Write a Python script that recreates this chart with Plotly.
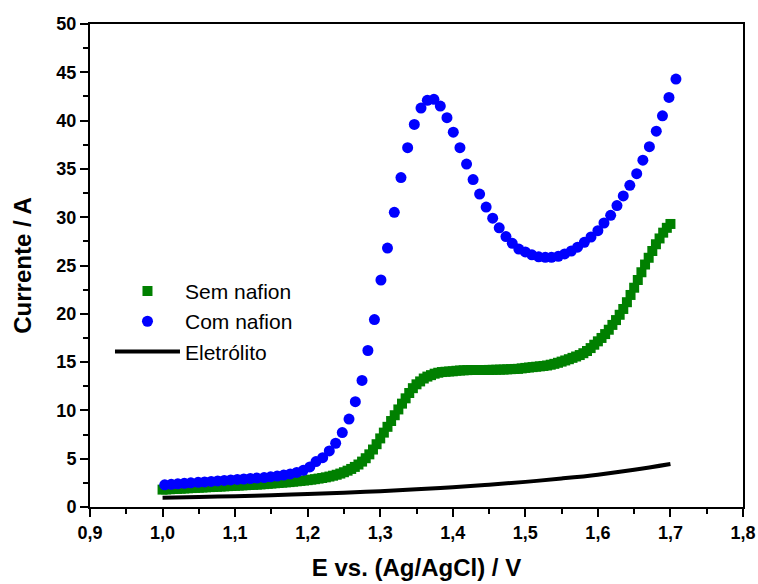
import plotly.graph_objects as go

# ---- data ----
sem_x = [1.000, 1.005, 1.010, 1.015, 1.020, 1.025, 1.030, 1.035, 1.040, 1.045,
         1.050, 1.055, 1.060, 1.065, 1.070, 1.075, 1.080, 1.085, 1.090, 1.095,
         1.100, 1.105, 1.110, 1.115, 1.120, 1.125, 1.130, 1.135, 1.140, 1.145,
         1.150, 1.155, 1.160, 1.165, 1.170, 1.175, 1.180, 1.185, 1.190, 1.195,
         1.200, 1.205, 1.210, 1.215, 1.220, 1.225, 1.230, 1.235, 1.240, 1.245,
         1.250, 1.255, 1.260, 1.265, 1.270, 1.275, 1.280, 1.285, 1.290, 1.295,
         1.300, 1.305, 1.310, 1.315, 1.320, 1.325, 1.330, 1.335, 1.340, 1.345,
         1.350, 1.355, 1.360, 1.365, 1.370, 1.375, 1.380, 1.385, 1.390, 1.395,
         1.400, 1.405, 1.410, 1.415, 1.420, 1.425, 1.430, 1.435, 1.440, 1.445,
         1.450, 1.455, 1.460, 1.465, 1.470, 1.475, 1.480, 1.485, 1.490, 1.495,
         1.500, 1.505, 1.510, 1.515, 1.520, 1.525, 1.530, 1.535, 1.540, 1.545,
         1.550, 1.555, 1.560, 1.565, 1.570, 1.575, 1.580, 1.585, 1.590, 1.595,
         1.600, 1.605, 1.610, 1.615, 1.620, 1.625, 1.630, 1.635, 1.640, 1.645,
         1.650, 1.655, 1.660, 1.665, 1.670, 1.675, 1.680, 1.685, 1.690, 1.695,
         1.700]
sem_y = [1.80, 1.82, 1.84, 1.86, 1.88, 1.90, 1.92, 1.94, 1.96, 1.98,
         2.00, 2.02, 2.04, 2.06, 2.08, 2.10, 2.12, 2.14, 2.16, 2.18,
         2.20, 2.22, 2.24, 2.26, 2.28, 2.30, 2.32, 2.34, 2.37, 2.40,
         2.43, 2.46, 2.49, 2.52, 2.55, 2.58, 2.62, 2.66, 2.70, 2.74,
         2.78, 2.83, 2.88, 2.94, 3.00, 3.07, 3.15, 3.24, 3.34, 3.46,
         3.60, 3.76, 3.94, 4.15, 4.40, 4.70, 5.05, 5.45, 5.95, 6.50,
         7.10, 7.70, 8.30, 8.90, 9.50, 10.10, 10.70, 11.25, 11.80, 12.30,
         12.70, 13.00, 13.30, 13.50, 13.65, 13.80, 13.90, 13.97, 14.00, 14.03,
         14.05, 14.10, 14.13, 14.15, 14.17, 14.18, 14.18, 14.18, 14.18, 14.18,
         14.19, 14.20, 14.21, 14.22, 14.23, 14.25, 14.27, 14.29, 14.30, 14.35,
         14.40, 14.44, 14.48, 14.52, 14.56, 14.60, 14.65, 14.73, 14.82, 14.93,
         15.05, 15.17, 15.30, 15.44, 15.58, 15.73, 15.92, 16.15, 16.45, 16.80,
         17.15, 17.50, 17.90, 18.35, 18.85, 19.35, 19.90, 20.50, 21.20, 21.95,
         22.70, 23.50, 24.30, 25.10, 25.80, 26.50, 27.20, 27.80, 28.40, 28.90,
         29.30]

com_x = [1.003, 1.012, 1.021, 1.030, 1.039, 1.049, 1.058, 1.067, 1.076, 1.085,
         1.094, 1.103, 1.112, 1.121, 1.130, 1.140, 1.149, 1.158, 1.167, 1.176,
         1.185, 1.194, 1.203, 1.2115, 1.2207, 1.2298, 1.2386, 1.2477, 1.257, 1.2657,
         1.2749, 1.283, 1.292, 1.301, 1.310, 1.3194, 1.3286, 1.3378, 1.347, 1.3562,
         1.3649, 1.374, 1.3828, 1.392, 1.4007, 1.4099, 1.419, 1.428, 1.437, 1.446,
         1.455, 1.464, 1.4733, 1.482, 1.491, 1.500, 1.509, 1.5184, 1.5275, 1.536,
         1.5454, 1.5542, 1.5634, 1.572, 1.5813, 1.5905, 1.600, 1.6084, 1.6176, 1.6263,
         1.635, 1.644, 1.6535, 1.662, 1.671, 1.6805, 1.689, 1.698, 1.7076]
com_y = [2.30, 2.35, 2.40, 2.45, 2.50, 2.55, 2.60, 2.65, 2.70, 2.75,
         2.80, 2.85, 2.90, 2.95, 3.00, 3.05, 3.12, 3.20, 3.30, 3.42,
         3.58, 3.80, 4.15, 4.70, 5.10, 5.80, 6.60, 7.70, 9.10, 10.90,
         13.10, 16.20, 19.40, 23.50, 26.80, 30.50, 34.10, 37.20, 39.60, 41.30,
         42.10, 42.20, 41.50, 40.30, 38.80, 37.20, 35.50, 33.90, 32.40, 31.05,
         29.90, 28.90, 28.00, 27.30, 26.70, 26.40, 26.10, 25.90, 25.85, 25.85,
         25.95, 26.20, 26.50, 26.90, 27.40, 27.95, 28.60, 29.40, 30.20, 31.20,
         32.20, 33.30, 34.50, 35.90, 37.30, 38.90, 40.50, 42.40, 44.30]

ele_x = [1.00, 1.05, 1.10, 1.15, 1.20, 1.25, 1.30, 1.35, 1.40, 1.45,
         1.50, 1.55, 1.60, 1.65, 1.70]
ele_y = [0.95, 1.03, 1.12, 1.22, 1.34, 1.48, 1.64, 1.83, 2.05, 2.30,
         2.60, 2.95, 3.35, 3.85, 4.45]

x_tickvals = [0.9, 1.0, 1.1, 1.2, 1.3, 1.4, 1.5, 1.6, 1.7, 1.8]
x_ticktext = ["0,9", "1,0", "1,1", "1,2", "1,3", "1,4", "1,5", "1,6", "1,7", "1,8"]
y_tickvals = [0, 5, 10, 15, 20, 25, 30, 35, 40, 45, 50]
y_ticktext = ["0", "5", "10", "15", "20", "25", "30", "35", "40", "45", "50"]

series_names = ["Sem nafion", "Com nafion", "Eletrólito"]
x_title = "E vs. (Ag/AgCl) / V"
y_title = "Currente / A"

FONT = "Liberation Sans, Arial, sans-serif"

fig = go.Figure()
fig.add_trace(go.Scatter(
    x=sem_x, y=sem_y, mode="markers", name=series_names[0], legendgroup="a",
    marker=dict(symbol="square", size=10, color="#008000", line=dict(width=0)),
))
fig.add_trace(go.Scatter(
    x=com_x, y=com_y, mode="markers", name=series_names[1], legendgroup="b",
    marker=dict(symbol="circle", size=11, color="#0000FF", line=dict(width=0)),
))
fig.add_trace(go.Scatter(
    x=ele_x, y=ele_y, mode="lines", name=series_names[2], legendgroup="c",
    line=dict(color="black", width=4, shape="spline"),
))

axis_common = dict(
    showline=True, linewidth=2, linecolor="black", mirror=True,
    showgrid=False, zeroline=False, automargin=False,
    ticks="outside", ticklen=8, tickwidth=2, tickcolor="black",
    tickfont=dict(family=FONT, size=18, color="black"),
)

fig.update_xaxes(
    range=[0.9, 1.8], tickmode="array", tickvals=x_tickvals,
    ticktext=["<b>%s</b>" % t for t in x_ticktext],
    minor=dict(ticks="outside", ticklen=5, tickwidth=2, tickcolor="black", dtick=0.05, tick0=0.9),
    title=dict(text="<b>%s</b>" % x_title, font=dict(family=FONT, size=24, color="black"), standoff=18),
    **axis_common,
)
fig.update_yaxes(
    range=[0, 50], tickmode="array", tickvals=y_tickvals,
    ticktext=["<b>%s</b>" % t for t in y_ticktext],
    minor=dict(ticks="outside", ticklen=5, tickwidth=2, tickcolor="black", dtick=2.5, tick0=0),
    title=dict(text="<b>%s</b>" % y_title, font=dict(family=FONT, size=24, color="black"), standoff=18),
    **axis_common,
)

fig.update_layout(
    width=758, height=584,
    margin=dict(l=90, r=15, t=24, b=77),
    plot_bgcolor="white", paper_bgcolor="white",
    font=dict(family=FONT, color="black"),
    legend=dict(
        x=0.0306, y=0.489, xanchor="left", yanchor="top",
        bgcolor="rgba(0,0,0,0)", font=dict(family=FONT, size=21, color="black"),
        tracegroupgap=0, traceorder="normal", itemwidth=65,
    ),
)

fig.write_html(
    "out.html",
    config={"displayModeBar": False},
    post_script="document.body.style.margin='0';document.body.style.overflow='hidden';",
)
